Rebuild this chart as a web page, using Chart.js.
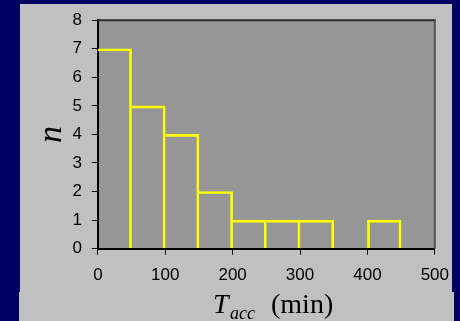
<!DOCTYPE html>
<html>
<head>
<meta charset="utf-8">
<script src="https://cdn.jsdelivr.net/npm/chart.js@4"></script>
<style>
  html, body { margin: 0; padding: 0; }
  body { width: 460px; height: 321px; background: #000060; position: relative; overflow: hidden; }
  #panelLow { position: absolute; left: 19px; top: 292px; width: 435px; height: 29px; background: #c0c0c0; }
  #panel { position: absolute; left: 20px; top: 4px; width: 432px; height: 317px; background: #c0c0c0; }
  #chart { position: absolute; left: 0; top: 0; }
  .t { position: absolute; font-family: "Liberation Serif", "Times New Roman", serif; color: #000; white-space: pre; z-index: 2; }
</style>
</head>
<body>
<div id="panelLow"></div>
<div id="panel"></div>
<canvas id="chart" width="460" height="321"></canvas>
<span class="t" style="left:213px;top:290px;font-size:28px;line-height:28px;font-style:italic">T</span>
<span class="t" style="left:230px;top:304px;font-size:18px;line-height:18px;font-style:italic">acc</span>
<span class="t" style="left:271px;top:290px;font-size:28px;line-height:28px">(min)</span>
<script>
// histogram of T_acc, bins of 50 min
const binStarts = [0, 50, 100, 150, 200, 250, 300, 350, 400, 450];
const binWidth = 50;
const counts = [7, 5, 4, 2, 1, 1, 1, 0, 1, 0];
const xTicks = [0, 100, 200, 300, 400, 500];
const yTicks = [0, 1, 2, 3, 4, 5, 6, 7, 8];

const bins = binStarts.map((s, i) => ({ start: s, n: counts[i], prev: i > 0 ? counts[i - 1] : null }))
    .filter(b => b.n > 0);
const points = bins.map(b => ({ x: b.start + binWidth / 2, y: b.n }));

const tickFont = { family: 'Liberation Sans, Arial, sans-serif', size: 17 };

const frame = {
    id: 'frame',
    beforeDraw(c) {
        const a = c.chartArea, ctx = c.ctx;
        ctx.save();
        ctx.fillStyle = '#969696';
        ctx.fillRect(a.left, a.top, a.right - a.left, a.bottom - a.top);
        ctx.restore();
    },
    afterDraw(c) {
        const a = c.chartArea, ctx = c.ctx;
        ctx.save();
        ctx.lineWidth = 2;
        ctx.strokeStyle = '#2a2a2a';
        ctx.beginPath(); ctx.moveTo(a.left, a.top); ctx.lineTo(a.right + 1, a.top); ctx.stroke();
        ctx.strokeStyle = '#555';
        ctx.beginPath(); ctx.moveTo(a.right, a.top); ctx.lineTo(a.right, a.bottom); ctx.stroke();
        ctx.restore();
    }
};

new Chart(document.getElementById('chart'), {
    type: 'bar',
    data: {
        datasets: [{
            data: points,
            backgroundColor: 'rgba(0,0,0,0)',
            borderColor: '#ffff00',
            borderWidth: ctx => {
                const b = bins[ctx.dataIndex];
                return { top: 2, right: 2, bottom: 0, left: (b && b.prev === 0) ? 2 : 0 };
            },
            borderSkipped: false,
            barPercentage: 1,
            categoryPercentage: 1
        }]
    },
    options: {
        responsive: false,
        animation: false,
        devicePixelRatio: 1,
        layout: { padding: { left: 0, top: 0, right: 0, bottom: 24 } },
        plugins: { legend: { display: false }, tooltip: { enabled: false } },
        scales: {
            x: {
                type: 'linear', min: 0, max: 500, offset: false,
                afterBuildTicks: s => { s.ticks = xTicks.map(v => ({ value: v })); },
                ticks: { color: '#000', font: tickFont, padding: 11, maxRotation: 0 },
                grid: { offset: false, drawOnChartArea: false, tickLength: 6, tickColor: '#000', tickWidth: 1 },
                border: { color: '#000', width: 2 }
            },
            y: {
                min: 0, max: 8,
                afterBuildTicks: s => { s.ticks = yTicks.map(v => ({ value: v })); },
                ticks: { color: '#000', font: tickFont, padding: 10 },
                grid: { drawOnChartArea: false, tickLength: 6, tickColor: '#000', tickWidth: 1 },
                border: { color: '#000', width: 2 },
                title: {
                    display: true, text: 'n', color: '#000',
                    font: { family: 'Liberation Serif, Times New Roman, serif', style: 'italic', size: 34, lineHeight: 0.6 },
                    padding: { top: 42, bottom: 0 }
                }
            }
        }
    },
    plugins: [frame]
});
</script>
</body>
</html>
